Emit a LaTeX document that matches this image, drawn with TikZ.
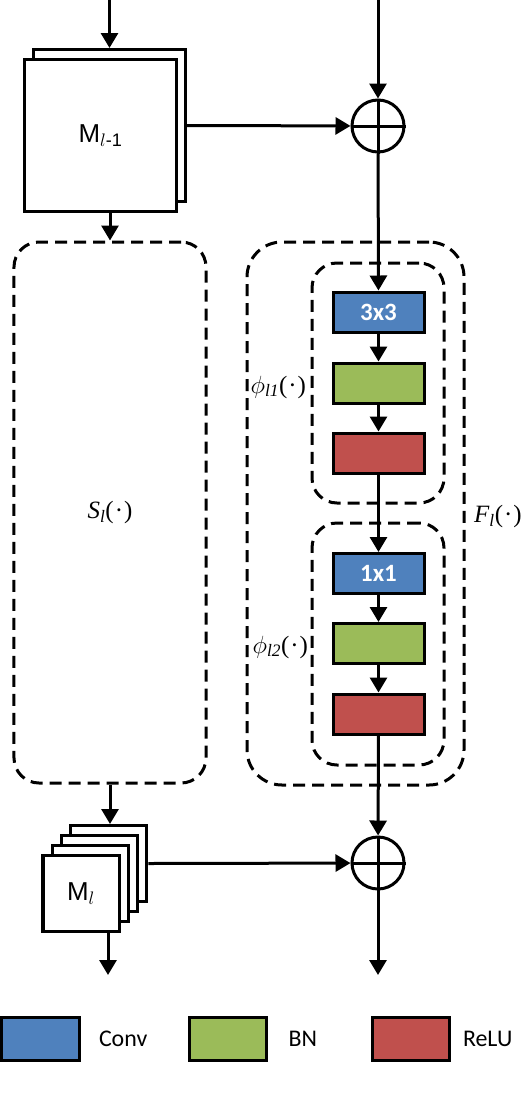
\RequirePackage{fix-cm}
\documentclass[tikz,border=0pt]{standalone}
\usepackage{amsmath}
\usepackage{fontspec}
\setsansfont{Carlito}
\newfontfamily\arialfont{Liberation Sans}
\newfontfamily\timesfont{Liberation Serif}
\usetikzlibrary{arrows.meta,positioning}
\definecolor{convblue}{HTML}{4F81BD}
\definecolor{bngreen}{HTML}{9BBB59}
\definecolor{relured}{HTML}{C0504D}
\newcommand{\fn}[2]{\textit{#1}\textsubscript{\textit{#2}}(\kern1pt·\kern1pt)}

\begin{document}
\begin{tikzpicture}[x=1bp,y=-1bp,>={Triangle[length=15bp,width=17bp]},line width=3bp,
  sheet/.style={draw,fill=white,minimum size=152bp,inner sep=0pt,font=\arialfont\fontsize{26}{28}\selectfont},
  layer/.style={draw,minimum width=91bp,minimum height=40bp,inner sep=0pt,text=white,font=\sffamily\bfseries\fontsize{25}{28}\selectfont},
  group/.style={draw,dash pattern=on 12bp off 7bp,rounded corners=25bp,inner sep=0pt},
  sumop/.style={draw,circle,minimum size=52bp,inner sep=0pt},
  lab/.style={inner sep=1bp,font=\timesfont\fontsize{25}{28}\selectfont},
  key/.style={draw,minimum width=77bp,minimum height=43bp,inner sep=0pt},
  keylab/.style={inner sep=0pt,font=\sffamily\fontsize{24}{28}\selectfont}]
\useasboundingbox (0,0) rectangle (528,1096);

% input maps M_{l-1}
\node (mprevback) [sheet] at (109.5,125.5) {};
\node (mprev) [sheet] at (100.5,135.5) {M$_{l\text{-1}}$};
\coordinate (inL) at (109.5,0);
\coordinate (inR) at (378,0);
\node (add1) [sumop] at (378,126) {};
\draw (add1.north) -- (add1.south) (add1.west) -- (add1.east);

% dashed groups
\node (sbox) [group] at (110,512.5) [minimum width=192bp,minimum height=541bp] {};
\node (slab) [lab] at (sbox) {\fn{S}{l}};
\node (fbox) [group,rounded corners=35bp] at (355.5,513.5) [minimum width=217bp,minimum height=543bp] {};
\node (flab) [lab,right=6bp of fbox.east,yshift=-3bp] {\fn{F}{l}};
\node (phi1) [group] at (378,383) [minimum width=132bp,minimum height=240bp] {};
\node (phi2) [group] at (378,644) [minimum width=132bp,minimum height=242bp] {};
\node (phi1lab) [lab,left=2bp of phi1.west,yshift=-4bp] {\fn{$\phi$}{l1}};
\node (phi2lab) [lab,left=0bp of phi2.west,yshift=-3bp] {\fn{$\phi$}{l2}};

% layers
\node (conv1) [layer,fill=convblue] at (378.5,312) {3x3};
\node (bn1) [layer,fill=bngreen] at (378.5,383) {};
\node (relu1) [layer,fill=relured] at (378.5,453) {};
\node (conv2) [layer,fill=convblue] at (378.5,573.5) {1x1};
\node (bn2) [layer,fill=bngreen] at (378.5,643.5) {};
\node (relu2) [layer,fill=relured] at (378.5,714) {};

% output maps M_l
\foreach \i in {3,2,1}
  \node (mcur\i) [sheet,minimum size=76bp] at ({81+9.33*\i},{893.5-10*\i}) {};
\node (mcur) [sheet,minimum size=76bp] at (81,893.5) {M$_l$};
\node (add2) [sumop] at (378,863) {};
\draw (add2.north) -- (add2.south) (add2.west) -- (add2.east);
\coordinate (outL) at (108,975);
\coordinate (outR) at (378,975);

\draw[->] (inL) -- (mprevback);
\draw[->] (inR) -- (add1);
\draw[->] (mprevback.east) -- (add1);
\draw[->] (sbox.north |- mprev.south) -- (sbox.north);
\draw[->] (add1) -- (conv1);
\draw[->] (conv1) -- (bn1);
\draw[->] (bn1) -- (relu1);
\draw[->] (relu1) -- (conv2);
\draw[->] (conv2) -- (bn2);
\draw[->] (bn2) -- (relu2);
\draw[->] (relu2) -- (add2);
\draw[->] (sbox.south) -- (sbox.south |- mcur3.north);
\draw[->] (mcur3.east) -- (add2);
\draw[->] (outL |- mcur.south) -- (outL);
\draw[->] (add2) -- (outR);

% legend
\node (convkey) [key,fill=convblue] at (40.5,1038.5) {};
\node (bnkey) [key,fill=bngreen] at (228,1038.5) {};
\node (relukey) [key,fill=relured] at (410.5,1038.5) {};
\node (convtxt) [keylab,right=17bp of convkey] {Conv};
\node (bntxt) [keylab,right=19bp of bnkey] {BN};
\node (relutxt) [keylab,right=11bp of relukey] {ReLU};
\end{tikzpicture}
\end{document}
